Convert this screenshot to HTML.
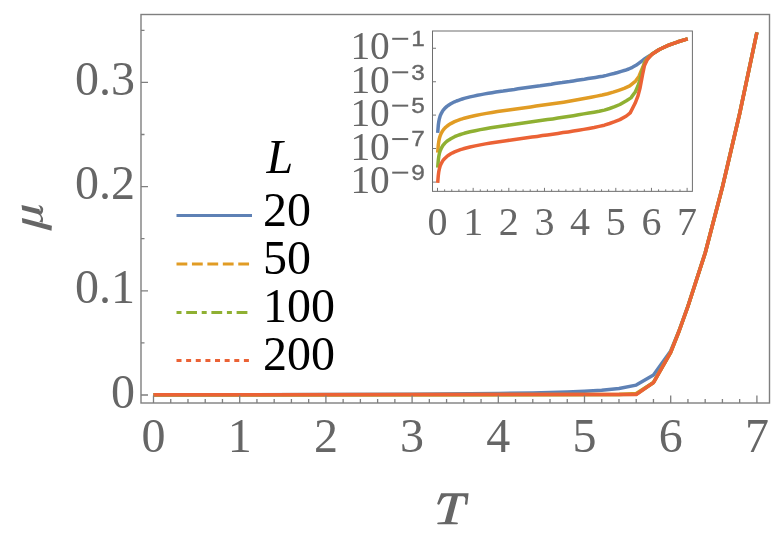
<!DOCTYPE html>
<html><head><meta charset="utf-8"><title>plot</title>
<style>
html,body{margin:0;padding:0;background:#fff;}
svg{display:block;will-change:transform;}
text{font-family:"Liberation Serif",serif;}
.sans{font-family:"Liberation Sans",sans-serif;}
</style></head><body>
<svg width="772" height="548" viewBox="0 0 772 548">
<rect width="772" height="548" fill="#fff"/>
<!-- main curves -->
<g fill="none" stroke-width="3.5" stroke-linejoin="round" stroke-linecap="butt">
<path d="M153.5,395.0 L239.7,394.8 L325.9,394.6 L412.1,394.3 L498.3,393.5 L532.8,392.9 L567.3,391.9 L584.5,391.2 L601.7,390.3 L619.0,388.5 L636.2,385.1 L653.5,375.0 L670.7,351.0 L679.3,330.2 L687.9,306.2 L705.2,252.7 L722.4,187.0 L739.7,113.2 L756.9,32.2" stroke="#5E81B5"/>
<path d="M153.5,394.8 L619.0,394.4 L636.2,393.4 L653.5,382.4 L670.7,352.3 L679.3,330.5 L687.9,306.5 L705.2,253.0 L722.4,187.3 L739.7,113.5 L756.9,32.5" stroke="#E19C24"/>
<path d="M153.5,394.8 L619.0,394.6 L636.2,394.2 L653.5,382.5 L670.7,352.3 L679.3,330.5 L687.9,306.5 L705.2,253.0 L722.4,187.3 L739.7,113.5 L756.9,32.5" stroke="#8FB032"/>
<path d="M153.5,394.8 L636.2,394.5 L653.5,382.6 L670.7,352.3 L679.3,330.5 L687.9,306.5 L705.2,253.0 L722.4,187.3 L739.7,113.5 L756.9,32.5" stroke="#EB6235"/>
</g>
<!-- main frame -->
<rect x="141" y="14.5" width="628.5" height="388.5" fill="none" stroke="#7f7f7f" stroke-width="1.4"/>
<path d="M153.50,403v-7.5 M170.74,403v-4 M187.98,403v-4 M205.22,403v-4 M222.46,403v-4 M239.70,403v-7.5 M256.94,403v-4 M274.18,403v-4 M291.42,403v-4 M308.66,403v-4 M325.90,403v-7.5 M343.14,403v-4 M360.38,403v-4 M377.62,403v-4 M394.86,403v-4 M412.10,403v-7.5 M429.34,403v-4 M446.58,403v-4 M463.82,403v-4 M481.06,403v-4 M498.30,403v-7.5 M515.54,403v-4 M532.78,403v-4 M550.02,403v-4 M567.26,403v-4 M584.50,403v-7.5 M601.74,403v-4 M618.98,403v-4 M636.22,403v-4 M653.46,403v-4 M670.70,403v-7.5 M687.94,403v-4 M705.18,403v-4 M722.42,403v-4 M739.66,403v-4 M756.90,403v-7.5 M141,395.00h7 M141,342.90h3.5 M141,290.80h7 M141,238.70h3.5 M141,186.60h7 M141,134.50h3.5 M141,82.40h7 M141,30.30h3.5" stroke="#7f7f7f" stroke-width="1.3" fill="none"/>
<g font-size="48" fill="#666">
<text x="153.5" y="451.8" text-anchor="middle">0</text>
<text x="239.7" y="451.8" text-anchor="middle">1</text>
<text x="325.9" y="451.8" text-anchor="middle">2</text>
<text x="412.1" y="451.8" text-anchor="middle">3</text>
<text x="498.3" y="451.8" text-anchor="middle">4</text>
<text x="584.5" y="451.8" text-anchor="middle">5</text>
<text x="670.7" y="451.8" text-anchor="middle">6</text>
<text x="756.9" y="451.8" text-anchor="middle">7</text>
<text x="135" y="407.6" text-anchor="end">0</text>
<text x="135" y="303.4" text-anchor="end">0.1</text>
<text x="135" y="199.2" text-anchor="end">0.2</text>
<text x="135" y="95.0" text-anchor="end">0.3</text>
</g>
<!-- axis labels -->
<path fill="#666" transform="translate(430,485) scale(0.0821)" d="M135,100 L470,100 L455,232 Q452,242 440,240 L428,236 Q424,232 426,222 L432,178 Q434,140 398,136 L340,136 L258,450 L328,456 Q342,458 340,468 Q338,478 328,478 L98,478 Q86,478 88,466 Q90,458 100,457 L180,450 L265,136 L205,136 Q165,140 150,172 L118,232 Q112,242 100,238 L92,234 Q84,230 90,218 Z"/>
<g fill="#666" transform="translate(15,198) scale(0.07305)">
<path d="M95,275 L505,380 L500,450 L100,340 Z"/>
<path d="M90,95 L335,155 L352,228 L98,165 Z"/>
<path d="M318,98 Q376,100 386,150 Q392,196 354,232 L336,196 Q372,150 318,98 Z"/>
<path d="M336,210 Q400,262 378,340 L330,322 C366,308 366,252 318,224 Z"/>
</g>
<!-- legend -->
<g fill="#000" font-size="48">
<text x="266.5" y="172.5" font-style="italic">L</text>
<text x="263" y="225.5">20</text>
<text x="263" y="273.5">50</text>
<text x="263" y="321.5">100</text>
<text x="263" y="369.5">200</text>
</g>
<g fill="none" stroke-width="3">
<path d="M176.5,215.5H252" stroke="#5E81B5"/>
<path d="M176.5,264H250" stroke="#E19C24" stroke-dasharray="10.8 4.64"/>
<path d="M176.5,312.4H248" stroke="#8FB032" stroke-dasharray="5 4.7 10.8 4.7"/>
<path d="M176.5,360.6H250" stroke="#EB6235" stroke-dasharray="5 4.63"/>
</g>
<!-- inset -->
<g fill="none" stroke-width="3.5" stroke-linejoin="round" stroke-linecap="butt">
<path d="M437.7,132.8 L438.3,125.3 L438.8,121.6 L439.3,119.0 L439.8,117.2 L440.3,115.6 L440.9,114.3 L441.4,113.2 L441.9,112.3 L442.4,111.4 L442.9,110.6 L443.4,109.9 L444.0,109.3 L444.5,108.7 L445.0,108.1 L446.9,106.4 L448.9,105.0 L450.8,103.8 L452.7,102.8 L454.6,101.8 L456.5,101.0 L458.5,100.3 L460.4,99.6 L462.3,99.0 L464.2,98.4 L466.1,97.9 L468.1,97.4 L470.0,96.9 L473.7,96.1 L477.4,95.3 L481.1,94.6 L484.8,93.9 L488.4,93.3 L492.1,92.7 L495.8,92.1 L499.5,91.5 L503.2,91.0 L506.9,90.4 L510.6,89.9 L514.3,89.4 L518.0,88.8 L521.7,88.3 L525.4,87.8 L529.0,87.3 L532.7,86.8 L536.4,86.3 L540.1,85.8 L543.8,85.2 L547.5,84.7 L551.2,84.2 L554.9,83.6 L558.6,83.1 L562.2,82.6 L565.9,82.0 L569.6,81.5 L573.3,80.9 L577.0,80.3 L580.7,79.7 L584.4,79.2 L588.1,78.6 L591.8,78.0 L595.5,77.4 L599.1,76.8 L602.8,76.2 L606.5,75.4 L610.2,74.4 L613.9,73.5 L617.6,72.5 L621.3,71.4 L625.0,70.3 L628.7,69.0 L632.4,67.3 L636.0,65.3 L639.7,62.6 L643.4,59.8 L647.1,57.3 L650.8,55.0 L654.5,52.4 L658.2,50.1 L661.9,48.2 L665.6,46.5 L669.2,45.0 L672.9,43.6 L676.6,42.3 L680.3,41.1 L684.0,39.9 L687.7,38.9" stroke="#5E81B5"/>
<path d="M437.7,152.6 L438.3,145.1 L438.8,141.4 L439.3,138.8 L439.8,137.0 L440.3,135.4 L440.9,134.1 L441.4,133.0 L441.9,132.1 L442.4,131.2 L442.9,130.4 L443.4,129.7 L444.0,129.1 L444.5,128.5 L445.0,127.9 L446.9,126.2 L448.9,124.8 L450.8,123.6 L452.7,122.6 L454.6,121.6 L456.5,120.8 L458.5,120.1 L460.4,119.4 L462.3,118.8 L464.2,118.2 L466.1,117.7 L468.1,117.2 L470.0,116.7 L475.5,115.5 L481.0,114.4 L486.5,113.4 L492.0,112.5 L497.5,111.6 L503.0,110.8 L508.6,110.0 L514.1,109.2 L519.6,108.4 L525.1,107.7 L530.6,106.9 L536.1,106.1 L541.6,105.3 L547.1,104.6 L552.6,103.8 L558.1,103.0 L563.6,102.2 L569.1,101.3 L574.6,100.3 L580.1,99.3 L585.6,98.3 L591.1,97.2 L596.7,96.1 L602.2,95.0 L607.7,93.7 L613.2,92.1 L618.7,90.3 L624.2,88.4 L629.7,85.9 L635.6,81.1 L638.9,76.5 L641.4,70.4 L643.1,66.3 L645.3,61.0 L648.5,57.0 L651.9,54.3 L659.3,49.5 L668.7,45.2 L678.0,41.8 L687.7,38.9" stroke="#E19C24"/>
<path d="M437.7,167.7 L438.3,160.2 L438.8,156.5 L439.3,153.9 L439.8,152.1 L440.3,150.5 L440.9,149.2 L441.4,148.1 L441.9,147.2 L442.4,146.3 L442.9,145.5 L443.4,144.8 L444.0,144.2 L444.5,143.6 L445.0,143.0 L446.9,141.3 L448.9,139.9 L450.8,138.7 L452.7,137.7 L454.6,136.7 L456.5,135.9 L458.5,135.2 L460.4,134.5 L462.3,133.9 L464.2,133.3 L466.1,132.8 L468.1,132.3 L470.0,131.8 L475.2,130.7 L480.3,129.6 L485.5,128.7 L490.7,127.8 L495.8,127.0 L501.0,126.2 L506.2,125.4 L511.4,124.7 L516.5,124.0 L521.7,123.2 L526.9,122.5 L532.0,121.8 L537.2,121.1 L542.4,120.3 L547.5,119.6 L552.7,118.9 L557.9,118.1 L563.0,117.3 L568.2,116.5 L573.4,115.7 L578.5,114.8 L583.7,113.9 L588.9,113.1 L594.1,112.2 L599.2,111.3 L604.4,110.1 L609.6,108.5 L614.7,106.7 L619.9,104.5 L626.4,100.8 L630.9,97.9 L635.4,91.8 L637.9,86.0 L640.1,79.5 L642.0,71.2 L644.4,63.8 L647.0,59.3 L651.9,54.3 L659.3,49.5 L668.7,45.2 L678.0,41.8 L687.7,38.9" stroke="#8FB032"/>
<path d="M437.7,182.8 L438.3,175.4 L438.8,171.6 L439.3,169.1 L439.8,167.2 L440.3,165.6 L440.9,164.3 L441.4,163.2 L441.9,162.3 L442.4,161.4 L442.9,160.6 L443.4,159.9 L444.0,159.3 L444.5,158.7 L445.0,158.2 L446.9,156.4 L448.9,155.0 L450.8,153.8 L452.7,152.8 L454.6,151.9 L456.5,151.1 L458.5,150.4 L460.4,149.7 L462.3,149.1 L464.2,148.5 L466.1,148.0 L468.1,147.5 L470.0,147.0 L475.2,145.9 L480.3,144.9 L485.5,143.9 L490.7,143.0 L495.8,142.2 L501.0,141.4 L506.2,140.7 L511.4,139.9 L516.5,139.2 L521.7,138.5 L526.9,137.8 L532.0,137.1 L537.2,136.4 L542.4,135.6 L547.5,134.9 L552.7,134.2 L557.9,133.4 L563.0,132.6 L568.2,131.9 L573.4,131.1 L578.5,130.3 L583.7,129.4 L588.9,128.5 L594.1,127.5 L599.2,126.4 L604.4,125.2 L609.6,123.5 L614.7,121.7 L619.9,119.6 L626.4,116.0 L630.2,112.9 L635.1,103.3 L638.0,95.9 L640.1,87.7 L642.6,74.5 L644.5,65.5 L647.3,59.5 L651.9,54.4 L659.3,49.5 L668.7,45.2 L678.0,41.8 L687.7,38.9" stroke="#EB6235"/>
</g>
<rect x="432.5" y="31.0" width="259.9" height="160.35" fill="none" stroke="#6e6e6e" stroke-width="1"/>
<path d="M437.50,191.35v-3.5 M444.63,191.35v-2 M451.76,191.35v-2 M458.90,191.35v-2 M466.03,191.35v-2 M473.16,191.35v-3.5 M480.29,191.35v-2 M487.42,191.35v-2 M494.56,191.35v-2 M501.69,191.35v-2 M508.82,191.35v-3.5 M515.95,191.35v-2 M523.08,191.35v-2 M530.22,191.35v-2 M537.35,191.35v-2 M544.48,191.35v-3.5 M551.61,191.35v-2 M558.74,191.35v-2 M565.88,191.35v-2 M573.01,191.35v-2 M580.14,191.35v-3.5 M587.27,191.35v-2 M594.40,191.35v-2 M601.54,191.35v-2 M608.67,191.35v-2 M615.80,191.35v-3.5 M622.93,191.35v-2 M630.06,191.35v-2 M637.20,191.35v-2 M644.33,191.35v-2 M651.46,191.35v-3.5 M658.59,191.35v-2 M665.72,191.35v-2 M672.86,191.35v-2 M679.99,191.35v-2 M687.12,191.35v-3.5 M432.5,48.25h3.5 M432.5,81.75h3.5 M432.5,115.1h3.5 M432.5,148.5h3.5 M432.5,182.1h3.5" stroke="#777" stroke-width="1" fill="none"/>
<g font-size="40" fill="#666">
<text x="437.5" y="234.8" text-anchor="middle">0</text><text x="473.2" y="234.8" text-anchor="middle">1</text><text x="508.8" y="234.8" text-anchor="middle">2</text><text x="544.5" y="234.8" text-anchor="middle">3</text><text x="580.1" y="234.8" text-anchor="middle">4</text><text x="615.8" y="234.8" text-anchor="middle">5</text><text x="651.5" y="234.8" text-anchor="middle">6</text><text x="687.1" y="234.8" text-anchor="middle">7</text>
</g>
<g fill="#666">
<text x="350.4" y="59.25" font-size="39.4">10</text><rect x="392.2" y="37.80" width="16" height="2" /><text class="sans" font-size="21.6" stroke="#666" stroke-width="0.35" transform="translate(411.2,46.10) scale(1.13,1)">1</text><text x="350.4" y="92.75" font-size="39.4">10</text><rect x="392.2" y="71.30" width="16" height="2" /><text class="sans" font-size="21.6" stroke="#666" stroke-width="0.35" transform="translate(411.2,79.60) scale(1.13,1)">3</text><text x="350.4" y="126.10" font-size="39.4">10</text><rect x="392.2" y="104.65" width="16" height="2" /><text class="sans" font-size="21.6" stroke="#666" stroke-width="0.35" transform="translate(411.2,112.95) scale(1.13,1)">5</text><text x="350.4" y="159.50" font-size="39.4">10</text><rect x="392.2" y="138.05" width="16" height="2" /><text class="sans" font-size="21.6" stroke="#666" stroke-width="0.35" transform="translate(411.2,146.35) scale(1.13,1)">7</text><text x="350.4" y="193.10" font-size="39.4">10</text><rect x="392.2" y="171.65" width="16" height="2" /><text class="sans" font-size="21.6" stroke="#666" stroke-width="0.35" transform="translate(411.2,179.95) scale(1.13,1)">9</text>
</g>
</svg>
</body></html>
